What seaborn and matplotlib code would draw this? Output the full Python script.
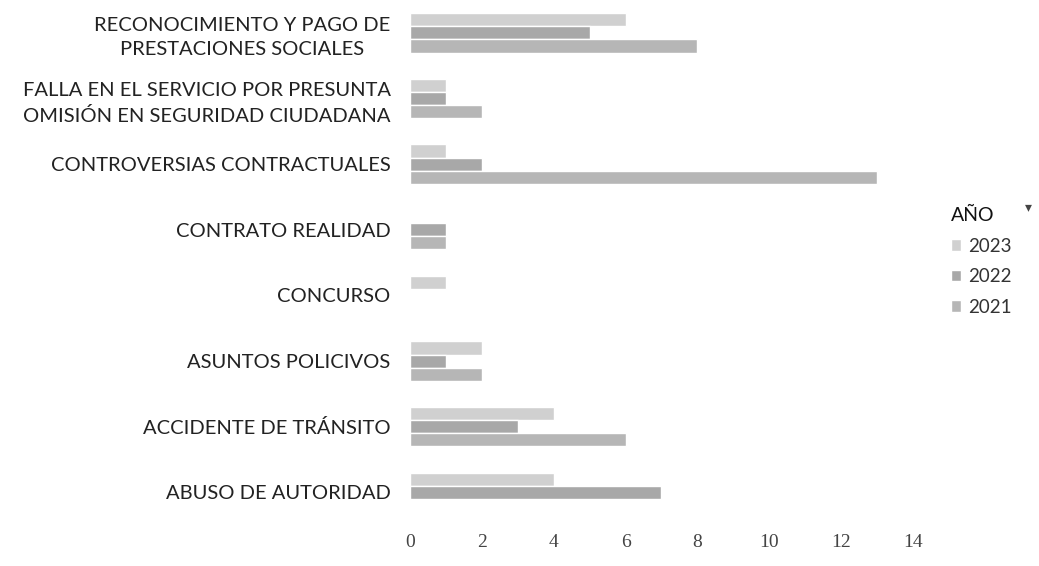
import pandas as pd
import numpy as np
import matplotlib
matplotlib.use("Agg")
import matplotlib.pyplot as plt
import seaborn as sns

# ======================
# Data
# ======================

categorias = [
    "RECONOCIMIENTO Y PAGO DE\nPRESTACIONES SOCIALES",
    "FALLA EN EL SERVICIO POR PRESUNTA\nOMISIÓN EN SEGURIDAD CIUDADANA",
    "CONTROVERSIAS CONTRACTUALES",
    "CONTRATO REALIDAD",
    "CONCURSO",
    "ASUNTOS POLICIVOS",
    "ACCIDENTE DE TRÁNSITO",
    "ABUSO DE AUTORIDAD",
]

anios = ["2023", "2022", "2021"]

valores_2023 = [6, 1, 1, 0, 1, 2, 4, 4]
valores_2022 = [5, 1, 2, 1, 0, 1, 3, 7]
valores_2021 = [8, 2, 13, 1, 0, 2, 6, 0]

xticks = [0, 2, 4, 6, 8, 10, 12, 14]

colores = ["#d0d0d0", "#a8a8a8", "#b6b6b6"]

# ======================
# Long format table
# ======================

df = pd.DataFrame({
    "categoria": categorias * 3,
    "anio": np.repeat(anios, len(categorias)),
    "valor": valores_2023 + valores_2022 + valores_2021,
})

# ======================
# Plot
# ======================

sns.set_style("white")
plt.rcParams["font.family"] = ["Lato", "DejaVu Sans"]

fig = plt.figure(figsize=(10.39, 5.66), dpi=100)
ax = fig.add_axes([0.3946, 0.072, 0.484, 0.928])

sns.barplot(
    data=df, x="valor", y="categoria", hue="anio",
    order=categorias, hue_order=anios, palette=colores,
    width=0.6, gap=0, ax=ax, legend=True,
)

ax.set_xlim(0, 14)
ax.set_xticks(xticks)
ax.set_xticklabels([str(t) for t in xticks], fontsize=14,
                   family="Liberation Serif", color="#444444")
ax.tick_params(axis="x", length=0, pad=6)
ax.tick_params(axis="y", length=0, pad=14)
for lbl in ax.get_yticklabels():
    lbl.set_fontsize(14.5)
    lbl.set_multialignment("center")
    lbl.set_linespacing(1.5)
    lbl.set_color("#222222")

ax.set_xlabel("")
ax.set_ylabel("")
sns.despine(ax=ax, left=True, bottom=True)

# legend on the right, Excel style
handles, labels = ax.get_legend_handles_labels()
ax.get_legend().remove()
leg = fig.legend(
    handles, labels, title="AÑO", loc="upper left",
    bbox_to_anchor=(0.899, 0.664), frameon=False,
    fontsize=13.5, title_fontsize=14,
    handlelength=0.55, handleheight=0.55, handletextpad=0.35,
    labelspacing=0.72,
)
leg._legend_box.align = "left"
for t in leg.get_texts():
    t.set_color("#333333")
leg.get_title().set_color("#111111")
fig.text(0.99, 0.634, "▾", fontsize=10, color="#444444",
         family="DejaVu Sans", ha="center", va="center")

fig.savefig("out.png", dpi=100)
